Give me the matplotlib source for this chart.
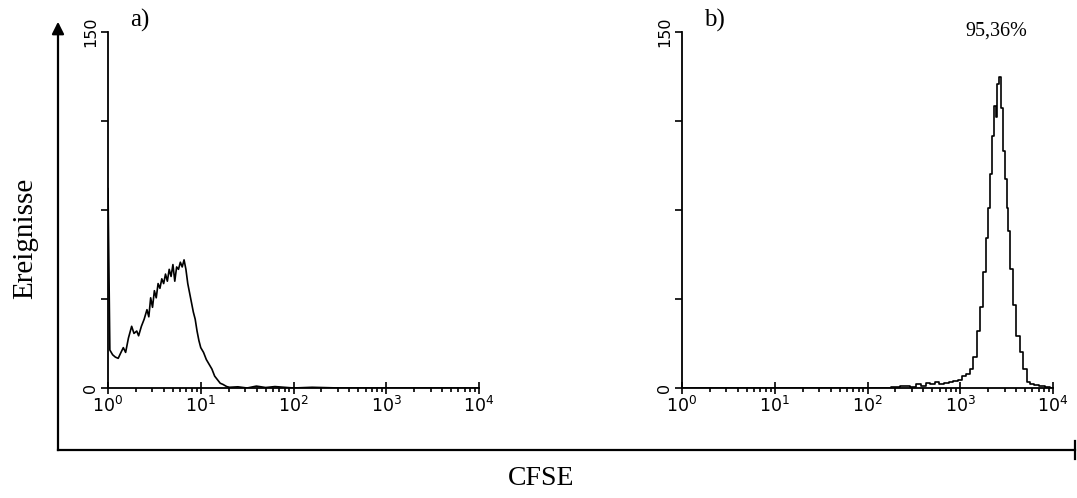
import numpy as np
import matplotlib
matplotlib.use('Agg')
import matplotlib.pyplot as plt
from matplotlib.ticker import LogLocator, NullFormatter

# histogram a) : log10(CFSE) channel and event count
a_log = [0.00, 0.02, 0.05, 0.08, 0.11, 0.14, 0.165, 0.19, 0.22, 0.255, 0.28, 0.31, 0.33,
         0.36, 0.39, 0.42, 0.44, 0.46, 0.48, 0.50, 0.52, 0.54, 0.56, 0.58, 0.60, 0.62,
         0.64, 0.66, 0.68, 0.70, 0.72, 0.74, 0.76, 0.78, 0.80, 0.82, 0.84, 0.86, 0.88,
         0.90, 0.92, 0.94, 0.96, 0.98, 1.00, 1.03, 1.06, 1.09, 1.12, 1.15, 1.18, 1.21,
         1.24, 1.28, 1.31, 1.40, 1.50, 1.60, 1.70, 1.80, 2.00, 2.20, 2.50, 3.00, 3.50, 4.00]
a_cnt = [84, 16, 14, 13, 12.5, 15, 17, 15, 21, 26, 23, 24, 22,
         26, 29, 33, 30, 38, 34, 41, 38, 44, 42, 46, 44, 48,
         45, 50, 47, 52, 45, 51, 50, 53, 51, 54, 50, 44, 40,
         36, 32, 29, 24, 20, 17, 15, 12, 10, 8, 5, 3.5, 2,
         1.5, 0.6, 0.3, 0.5, 0, 0.8, 0.2, 0.6, 0, 0.3, 0, 0, 0, 0]

# histogram b)
b_log = [0.00, 1.00, 2.20, 2.30, 2.40, 2.50, 2.55, 2.60, 2.65, 2.70, 2.75, 2.80, 2.85,
         2.90, 2.95, 3.00, 3.04, 3.08, 3.12, 3.16, 3.20, 3.23, 3.265, 3.29, 3.31, 3.33,
         3.35, 3.37, 3.39, 3.41, 3.43, 3.45, 3.47, 3.49, 3.51, 3.53, 3.55, 3.58, 3.62,
         3.66, 3.70, 3.73, 3.77, 3.82, 3.88, 3.94, 4.00]
b_cnt = [0, 0, 0, 0.5, 0.8, 0.6, 1.5, 1.0, 2.0, 1.5, 2.5, 1.5, 2.2,
         2.5, 3.0, 3.5, 5, 6, 8, 13, 24, 34, 49, 63, 76, 90,
         106, 119, 114, 128, 131, 118, 100, 88, 76, 66, 50, 35, 22,
         15, 8, 2.5, 1.5, 1.2, 0.8, 0.5, 0]

x_ticks = [1, 10, 100, 1000, 10000]
x_labels = [r'$10^{0}$', r'$10^{1}$', r'$10^{2}$', r'$10^{3}$', r'$10^{4}$']
y_ticks = [0, 37.5, 75, 112.5, 150]
y_labels = ['0', '', '', '', '150']

W, H = 1077, 498
fig = plt.figure(figsize=(W / 100, H / 100), dpi=100)
serif = ['Liberation Serif', 'DejaVu Serif']

# outer frame axes in pixel coordinates
bg = fig.add_axes([0, 0, 1, 1])
bg.set_xlim(0, W)
bg.set_ylim(H, 0)
bg.axis('off')
bg.plot([58, 58], [450, 34], color='black', lw=1.6)
bg.plot([58, 1075], [450, 450], color='black', lw=1.6)
bg.plot([1075, 1075], [441, 459], color='black', lw=1.6)
bg.annotate('', xy=(58, 19), xytext=(58, 36),
            arrowprops=dict(arrowstyle='-|>', color='black', lw=1.6, mutation_scale=18))
bg.text(25, 238, 'Ereignisse', rotation=90, ha='center', va='center',
        fontsize=21, family=serif)
bg.text(541, 478, 'CFSE', ha='center', va='center', fontsize=20, family=serif)


def panel(left, logs, counts, tag, style):
    ax = fig.add_axes([left / W, 1 - 388 / H, 371 / W, 356 / H])
    ax.plot(10 ** np.array(logs), counts, color='black', lw=1.2, drawstyle=style)
    ax.set_xscale('log')
    ax.set_xlim(1, 10000)
    ax.set_ylim(0, 150)
    for s in ['top', 'right']:
        ax.spines[s].set_visible(False)
    for s in ['left', 'bottom']:
        ax.spines[s].set_linewidth(1.3)
    ax.set_xticks(x_ticks)
    ax.set_xticklabels(x_labels)
    ax.xaxis.set_minor_locator(LogLocator(base=10, subs=np.arange(2, 10)))
    ax.xaxis.set_minor_formatter(NullFormatter())
    ax.set_yticks(y_ticks)
    ax.set_yticklabels(y_labels, rotation=90, va='center')
    ax.tick_params(axis='x', which='major', direction='inout', length=8, width=1.2,
                   labelsize=12.5, pad=2)
    ax.tick_params(axis='x', which='minor', direction='out', length=3, width=1.2)
    ax.tick_params(axis='y', direction='out', length=5, width=1.2, labelsize=11.5, pad=2)
    ax.patch.set_alpha(0)
    fig.text((left + 22) / W, 1 - 20 / H, tag, fontsize=18, family=serif,
             ha='left', va='center')
    return ax


panel(108, a_log, a_cnt, 'a)', 'default')
panel(682, b_log, b_cnt, 'b)', 'steps-mid')
fig.text(996 / W, 1 - 31 / H, '95,36%', fontsize=14.5, family=serif,
         ha='center', va='center')

fig.savefig('out.png', dpi=100)
